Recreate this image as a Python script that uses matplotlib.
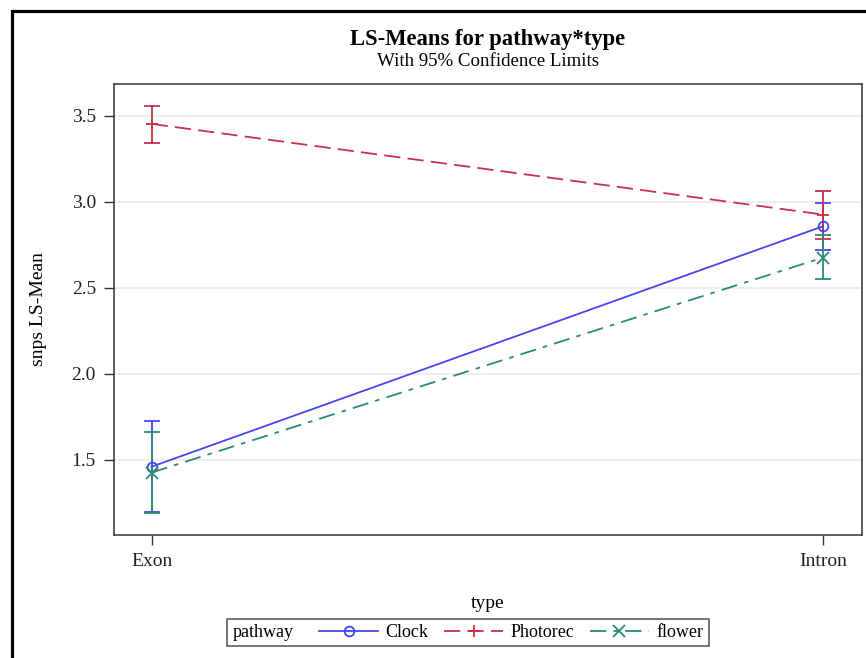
import matplotlib.pyplot as plt
from matplotlib.patches import Rectangle
from matplotlib.offsetbox import HPacker, DrawingArea
import numpy as np

# LS-means with 95% confidence limits
types = ["Exon", "Intron"]
pathways = ["Clock", "Photorec", "flower"]
means = {
    "Clock": [1.459, 2.857],
    "Photorec": [3.452, 2.925],
    "flower": [1.425, 2.675],
}
lower = {
    "Clock": [1.195, 2.721],
    "Photorec": [3.343, 2.785],
    "flower": [1.188, 2.549],
}
upper = {
    "Clock": [1.723, 2.991],
    "Photorec": [3.558, 3.064],
    "flower": [1.663, 2.806],
}

colors = {"Clock": "#4646F0", "Photorec": "#C8324B", "flower": "#2A8A78"}
markers = {"Clock": "o", "Photorec": "+", "flower": "x"}
styles = {"Clock": "-", "Photorec": (0, (9, 4)), "flower": (0, (9, 4, 2.5, 4))}

plt.rcParams["font.family"] = ["Liberation Serif", "DejaVu Serif"]

fig = plt.figure(figsize=(8.66, 6.58), dpi=100)
W, H = 866, 658
ax = fig.add_axes([114 / W, 1 - 535 / H, (862 - 114) / W, (535 - 84) / H])

x = np.arange(len(types))
handles = []
for p in pathways:
    m = np.array(means[p])
    err = [m - np.array(lower[p]), np.array(upper[p]) - m]
    ax.errorbar(x, m, yerr=err, fmt="none", ecolor=colors[p], elinewidth=1.3,
                capsize=6, capthick=1.3, zorder=3)
    line, = ax.plot(x, m, color=colors[p], linestyle=styles[p], lw=1.3,
                    marker=markers[p], markersize=8 if p != "Clock" else 7,
                    markerfacecolor="none", markeredgecolor=colors[p],
                    markeredgewidth=1.3, label=p, zorder=4)
    handles.append(line)

ax.set_xlim(-0.056, 1.058)
ax.set_ylim(1.062, 3.684)
ax.set_xticks(x)
ax.set_xticklabels(types)
ax.set_yticks([1.5, 2.0, 2.5, 3.0, 3.5])
ax.set_yticklabels(["1.5", "2.0", "2.5", "3.0", "3.5"])
ax.yaxis.grid(True, color="#EBEBEB", lw=1.2)
ax.set_axisbelow(True)
ax.tick_params(direction="out", length=7, width=1, colors="#333333",
               labelsize=14, labelcolor="#222222", pad=6)
for s in ax.spines.values():
    s.set_color("#333333")
    s.set_linewidth(1.1)

ax.set_xlabel("type", fontsize=14, labelpad=18)
ax.set_ylabel("snps LS-Mean", fontsize=14, labelpad=18)

fig.text(488 / W, 1 - 40 / H, "LS-Means for pathway*type", ha="center",
         va="center", fontsize=16.3, fontweight="bold")
fig.text(488 / W, 1 - 62 / H, "With 95% Confidence Limits", ha="center",
         va="center", fontsize=13.6)

# inline legend with the group title on the left
leg = fig.legend(handles=handles, labels=pathways, title="pathway", ncol=3,
                 loc="center", bbox_to_anchor=(468 / W, 1 - 632.5 / H),
                 fontsize=13, title_fontsize=13, frameon=True, fancybox=False,
                 edgecolor="#222222", handlelength=3.3, handletextpad=0.39,
                 columnspacing=0.8, borderpad=0.3, borderaxespad=0)
leg.get_frame().set_linewidth(1.1)
box = leg.get_children()[0]
title_box, entries = box.get_children()
box._children = [entries]
title_row = HPacker(children=[title_box, DrawingArea(7, 1)], sep=0, pad=0)
entries._children = [title_row] + entries.get_children()
entries.sep = 11

# outer frame
fig.patches.append(Rectangle((12 / W, -0.1), 1.2, 1 - 11 / H + 0.1,
                             transform=fig.transFigure, fill=False,
                             edgecolor="black", lw=2.3))

fig.savefig("out.png", dpi=100)
